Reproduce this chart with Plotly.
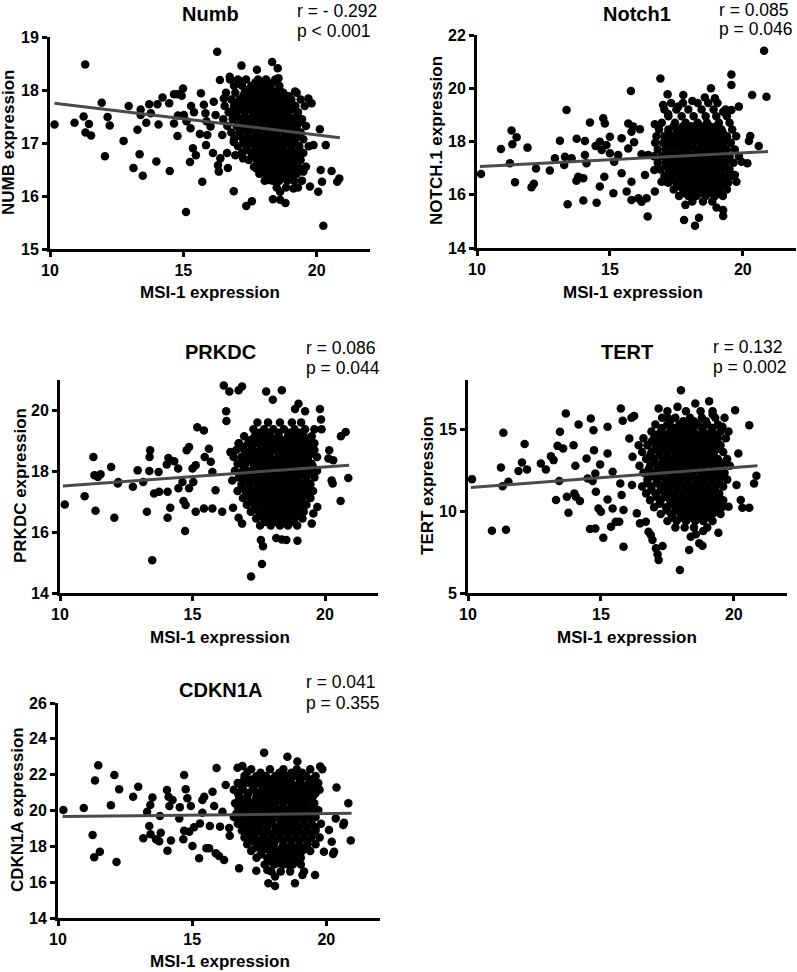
import plotly.graph_objects as go

# ---------------- DATA ----------------
x_tick_vals = [10, 15, 20]
panel_titles = ["Numb", "Notch1", "PRKDC", "TERT", "CDKN1A"]
y_titles = ["NUMB expression", "NOTCH.1 expression", "PRKDC expression", "TERT expression", "CDKN1A expression"]
x_title = "MSI-1 expression"
r_texts = ["r = - 0.292", "r = 0.085", "r = 0.086", "r = 0.132", "r = 0.041"]
p_texts = ["p < 0.001", "p = 0.046", "p = 0.044", "p = 0.002", "p = 0.355"]

# regression lines (end points)
numb_fit_x = [10.17, 20.87];   numb_fit_y = [17.75, 17.10]
notch_fit_x = [10.11, 20.95];  notch_fit_y = [17.06, 17.62]
prkdc_fit_x = [10.11, 20.91];  prkdc_fit_y = [17.52, 18.20]
tert_fit_x = [10.11, 20.89];   tert_fit_y = [11.44, 12.76]
cdkn_fit_x = [10.17, 20.94];   cdkn_fit_y = [19.66, 19.84]

# sparse points (x, y)
numb_points = [
    (10.17, 17.35), (10.92, 17.38), (11.32, 18.48), (11.26, 17.50), (11.46, 17.36), (11.33, 17.20),
    (11.54, 17.14), (11.94, 17.76), (12.16, 17.49), (12.24, 17.33), (12.06, 16.75), (12.76, 17.04),
    (12.95, 17.70), (13.28, 17.25), (13.36, 16.79), (13.13, 16.53), (13.48, 16.38), (13.40, 17.63),
    (13.40, 17.53), (13.61, 17.38), (13.72, 17.73), (13.78, 17.56), (13.99, 16.65), (14.03, 17.73),
    (14.07, 17.35), (14.22, 17.86), (14.47, 17.75), (14.49, 16.47), (14.65, 17.92), (14.78, 17.92),
    (14.80, 17.52), (14.65, 17.37), (14.78, 17.13), (14.94, 17.89), (14.99, 18.03), (15.02, 17.53),
    (15.10, 15.70), (15.12, 17.41), (15.25, 16.64), (15.29, 17.70), (15.40, 17.58), (15.36, 16.90),
    (15.47, 16.77), (15.27, 17.28), (15.66, 17.94), (15.71, 16.27), (15.62, 17.17), (15.77, 17.72),
    (15.83, 17.56), (15.87, 17.41), (15.85, 16.96), (15.90, 17.15), (16.02, 17.31), (16.11, 16.81),
    (16.14, 17.78), (16.21, 17.53), (16.27, 18.72), (16.33, 16.46), (16.37, 18.19), (16.39, 16.71),
    (16.30, 16.58), (16.46, 17.15), (16.52, 17.84), (16.64, 16.81), (16.67, 16.53), (16.74, 18.25),
    (16.77, 17.59), (16.89, 16.09), (16.95, 16.77), (16.89, 17.02), (17.18, 18.46), (17.24, 16.71),
    (17.36, 15.81), (17.49, 17.02), (17.57, 15.90), (17.64, 18.03), (17.76, 18.38), (17.74, 16.52),
    (18.07, 16.43), (18.20, 16.30), (18.33, 18.53), (18.36, 15.94), (18.54, 18.41), (18.63, 15.93),
    (18.83, 15.87), (18.63, 16.08), (18.57, 18.22), (19.13, 16.14), (19.19, 17.97), (19.50, 16.46),
    (19.69, 17.84), (19.81, 17.75), (19.88, 16.96), (19.75, 16.18), (20.06, 16.08), (20.12, 17.26),
    (20.15, 16.49), (20.20, 16.27), (20.34, 16.96), (20.25, 15.44), (20.56, 16.47), (20.77, 16.27),
    (20.85, 16.33),
]
# dense core: (y, [x values])
numb_core_rows = [
    (18.20, [16.75, 17.05, 17.35, 17.8, 18.1, 18.45]),
    (18.08, [16.9, 17.2, 17.55, 17.9, 18.25, 18.6]),
    (17.95, [16.6, 16.95, 17.3, 17.6, 17.85, 18.15, 18.45, 18.75, 19.25]),
    (17.82, [16.8, 17.1, 17.4, 17.7, 17.95, 18.2, 18.5, 18.8, 19.05, 19.4]),
    (17.70, [16.55, 16.9, 17.2, 17.5, 17.8, 18.05, 18.3, 18.6, 18.9, 19.2, 19.55]),
    (17.58, [16.7, 17.0, 17.3, 17.6, 17.9, 18.15, 18.4, 18.7, 18.95, 19.3]),
    (17.45, [16.5, 16.85, 17.15, 17.45, 17.7, 17.95, 18.25, 18.5, 18.8, 19.1, 19.45]),
    (17.32, [16.65, 17.0, 17.3, 17.55, 17.85, 18.1, 18.4, 18.65, 18.95, 19.25, 19.6]),
    (17.20, [16.8, 17.1, 17.4, 17.7, 17.95, 18.25, 18.5, 18.8, 19.1, 19.4]),
    (17.07, [16.9, 17.25, 17.55, 17.8, 18.1, 18.35, 18.65, 18.9, 19.2, 19.5]),
    (16.94, [17.05, 17.4, 17.7, 17.95, 18.2, 18.5, 18.75, 19.05, 19.35, 19.7]),
    (16.81, [17.2, 17.55, 17.85, 18.1, 18.35, 18.6, 18.9, 19.2, 19.5]),
    (16.68, [17.45, 17.75, 18.0, 18.3, 18.55, 18.85, 19.1, 19.4]),
    (16.55, [17.65, 17.95, 18.2, 18.45, 18.75, 19.0, 19.3, 19.6]),
    (16.42, [17.85, 18.15, 18.4, 18.7, 18.95, 19.25]),
    (16.29, [18.05, 18.35, 18.6, 18.9, 19.15, 19.45]),
    (16.16, [18.5, 18.85, 19.3]),
]
numb_core_fill = [
    (18.14, [17.2, 17.7, 18.0, 18.35]),
    (18.01, [17.45, 17.75, 18.0, 18.3, 18.6]),
    (17.88, [17.25, 17.55, 17.85, 18.1, 18.35, 18.65, 18.95]),
    (17.76, [17.05, 17.35, 17.65, 17.9, 18.15, 18.45, 18.75, 19.05]),
    (17.64, [17.15, 17.45, 17.75, 18.0, 18.3, 18.55, 18.85, 19.1]),
    (17.51, [17.0, 17.3, 17.6, 17.85, 18.1, 18.4, 18.65, 18.95, 19.25]),
    (17.39, [17.15, 17.45, 17.75, 18.0, 18.3, 18.55, 18.85, 19.1, 19.4]),
    (17.26, [17.25, 17.55, 17.85, 18.1, 18.4, 18.65, 18.95, 19.25]),
    (17.13, [17.1, 17.4, 17.7, 17.95, 18.25, 18.5, 18.8, 19.05, 19.35]),
    (17.00, [17.25, 17.55, 17.85, 18.1, 18.35, 18.6, 18.9, 19.15]),
    (16.87, [17.35, 17.7, 18.0, 18.25, 18.5, 18.75, 19.05, 19.35]),
    (16.74, [17.65, 17.9, 18.15, 18.45, 18.7, 18.95, 19.25]),
    (16.61, [17.8, 18.1, 18.35, 18.6, 18.9, 19.15]),
    (16.48, [18.0, 18.3, 18.55, 18.85, 19.1]),
    (16.35, [18.2, 18.5, 18.8, 19.05]),
]

notch_points = [
    (10.15, 16.78), (10.90, 17.72), (11.30, 18.41), (11.49, 18.16), (11.33, 17.90), (11.24, 17.18),
    (11.43, 16.47), (11.90, 17.77), (12.05, 16.28), (12.14, 16.41), (12.22, 16.99), (12.74, 16.91),
    (12.93, 17.37), (13.12, 18.03), (13.28, 17.12), (13.37, 19.18), (13.41, 15.64), (13.31, 17.43),
    (13.56, 17.37), (13.75, 18.10), (13.74, 16.53), (13.81, 16.68), (14.00, 16.62), (14.00, 15.78),
    (14.06, 18.02), (14.06, 17.49), (14.25, 18.71), (14.12, 17.18), (14.50, 15.70), (14.46, 17.83),
    (14.62, 17.99), (14.62, 16.31), (14.69, 17.68), (14.75, 18.87), (14.81, 18.68), (14.79, 16.68),
    (14.87, 17.87), (15.00, 18.18), (15.00, 17.56), (15.13, 16.06), (15.16, 17.24), (15.31, 17.49),
    (15.44, 18.12), (15.44, 16.81), (15.63, 16.12), (15.69, 18.68), (15.69, 17.74), (15.79, 19.90),
    (15.81, 18.37), (15.88, 18.56), (15.81, 16.49), (15.91, 17.97), (15.81, 15.80), (16.07, 15.87),
    (16.13, 18.46), (16.19, 17.52), (16.19, 15.74), (16.32, 16.74), (16.42, 15.18), (16.38, 15.87),
    (16.44, 17.49), (16.69, 18.65), (16.67, 16.93), (16.69, 16.12), (16.90, 20.37), (16.94, 16.49),
    (17.00, 19.37), (17.13, 16.49), (17.17, 19.77), (17.19, 19.03), (17.57, 19.31), (17.76, 19.75),
    (17.79, 15.05), (17.84, 15.62), (18.20, 14.84), (18.35, 15.14), (18.10, 19.52), (18.57, 19.65),
    (18.80, 20.00), (18.95, 19.62), (19.01, 15.52), (19.26, 15.20), (19.26, 15.43), (19.26, 19.12),
    (19.57, 20.52), (19.57, 20.12), (19.57, 19.18), (19.85, 19.31), (19.76, 16.49), (19.70, 16.74),
    (19.95, 17.24), (20.17, 17.18), (20.23, 18.02), (20.28, 18.21), (20.35, 19.75), (20.60, 17.83),
    (20.80, 21.41), (20.89, 19.68),
]
notch_core_rows = [
    (19.45, [17.3, 17.75, 18.3, 18.7, 19.05]),
    (19.20, [17.05, 17.5, 17.95, 18.45, 18.9, 19.35]),
    (18.95, [17.2, 17.7, 18.15, 18.6, 19.0, 19.4]),
    (18.70, [16.95, 17.45, 17.85, 18.3, 18.65, 19.1, 19.5]),
    (18.45, [16.85, 17.2, 17.6, 17.9, 18.2, 18.5, 18.85, 19.2, 19.6]),
    (18.20, [16.75, 17.05, 17.35, 17.65, 17.95, 18.25, 18.55, 18.8, 19.1, 19.4, 19.75]),
    (17.95, [16.7, 17.0, 17.3, 17.6, 17.85, 18.1, 18.4, 18.7, 18.95, 19.25, 19.55]),
    (17.70, [16.8, 17.1, 17.4, 17.7, 17.95, 18.25, 18.5, 18.8, 19.1, 19.4, 19.7]),
    (17.45, [16.65, 16.95, 17.25, 17.55, 17.8, 18.1, 18.35, 18.65, 18.9, 19.2, 19.5, 19.85]),
    (17.20, [16.8, 17.1, 17.4, 17.7, 17.95, 18.2, 18.5, 18.75, 19.05, 19.35, 19.65]),
    (16.95, [16.9, 17.25, 17.55, 17.85, 18.1, 18.35, 18.65, 18.9, 19.2, 19.5]),
    (16.70, [17.05, 17.35, 17.65, 17.95, 18.25, 18.5, 18.8, 19.05, 19.35, 19.6]),
    (16.45, [17.2, 17.5, 17.8, 18.1, 18.4, 18.65, 18.95, 19.2, 19.45]),
    (16.20, [17.4, 17.75, 18.0, 18.3, 18.55, 18.85, 19.1, 19.4]),
    (15.95, [17.6, 17.95, 18.25, 18.6, 18.95, 19.25]),
    (15.75, [18.1, 18.5, 18.85]),
]
notch_core_fill = [
    (18.57, [17.4, 17.75, 18.05, 18.4, 18.75, 19.0]),
    (18.32, [17.2, 17.5, 17.8, 18.1, 18.4, 18.7, 18.95, 19.25]),
    (18.07, [17.15, 17.45, 17.75, 18.0, 18.25, 18.55, 18.85, 19.1, 19.4]),
    (17.82, [17.25, 17.55, 17.85, 18.1, 18.4, 18.65, 18.95, 19.25]),
    (17.57, [17.1, 17.4, 17.7, 17.95, 18.25, 18.5, 18.8, 19.05, 19.35]),
    (17.32, [17.25, 17.55, 17.85, 18.1, 18.35, 18.65, 18.9, 19.2, 19.5]),
    (17.07, [17.1, 17.4, 17.7, 18.0, 18.25, 18.5, 18.8, 19.05, 19.35]),
    (16.82, [17.2, 17.5, 17.8, 18.1, 18.4, 18.65, 18.95, 19.2]),
    (16.57, [17.35, 17.65, 17.95, 18.25, 18.55, 18.8, 19.1, 19.35]),
    (16.32, [17.6, 17.9, 18.2, 18.45, 18.7, 19.0, 19.25]),
    (16.07, [17.8, 18.1, 18.4, 18.75, 19.1]),
]

prkdc_points = [
    (10.18, 16.91), (10.93, 17.18), (11.26, 18.47), (11.34, 16.70), (11.30, 17.87), (11.43, 17.81),
    (11.53, 17.90), (11.93, 18.14), (12.05, 16.47), (12.20, 17.65), (12.18, 17.60), (12.75, 17.49),
    (12.93, 18.03), (13.14, 17.65), (13.28, 16.67), (13.40, 18.69), (13.38, 18.47), (13.37, 18.01),
    (13.48, 15.08), (13.55, 17.27), (13.72, 17.98), (13.74, 17.33), (14.06, 17.33), (14.03, 18.22),
    (14.06, 16.47), (14.09, 18.44), (14.16, 16.80), (14.31, 18.33), (14.46, 18.09), (14.47, 17.44),
    (14.62, 17.65), (14.66, 17.02), (14.72, 16.04), (14.74, 16.89), (14.78, 18.69), (14.87, 18.80),
    (14.87, 17.44), (15.00, 18.09), (15.03, 17.65), (15.12, 16.67), (15.18, 19.45), (15.43, 19.34),
    (15.12, 18.20), (15.43, 16.78), (15.46, 18.47), (15.75, 16.78), (15.62, 18.74), (15.69, 18.31),
    (15.75, 17.98), (15.87, 17.38), (16.12, 16.67), (16.18, 20.82), (16.27, 19.97), (16.28, 19.65),
    (16.39, 20.62), (16.43, 18.63), (16.50, 17.70), (16.53, 16.80), (16.74, 20.66), (16.87, 20.79),
    (16.74, 18.91), (16.74, 16.47), (16.87, 16.28), (17.21, 14.54), (17.58, 15.74), (17.66, 15.54),
    (17.62, 14.95), (17.78, 20.62), (18.03, 20.35), (18.37, 20.66), (18.16, 15.81), (18.37, 15.76),
    (18.54, 15.74), (18.96, 15.72), (18.87, 20.05), (19.00, 20.22), (19.25, 19.97), (19.81, 20.05),
    (19.85, 19.70), (19.87, 19.38), (19.50, 16.28), (19.56, 16.61), (19.71, 16.83), (20.16, 18.69),
    (20.13, 18.42), (20.31, 18.36), (20.25, 17.70), (20.29, 17.60), (20.59, 17.02), (20.60, 19.15),
    (20.78, 19.29), (20.88, 17.78),
]
prkdc_core_rows = [
    (19.60, [17.45, 17.85, 18.3, 18.75, 19.1]),
    (19.38, [17.3, 17.7, 18.05, 18.45, 18.85, 19.25, 19.6]),
    (19.15, [16.95, 17.35, 17.65, 17.95, 18.25, 18.6, 18.9, 19.2, 19.5]),
    (18.92, [16.75, 17.1, 17.45, 17.75, 18.05, 18.35, 18.65, 18.95, 19.3, 19.6]),
    (18.70, [16.65, 16.95, 17.25, 17.55, 17.85, 18.1, 18.4, 18.7, 19.0, 19.3, 19.6]),
    (18.47, [16.55, 16.85, 17.15, 17.4, 17.7, 17.95, 18.25, 18.5, 18.8, 19.05, 19.35, 19.7]),
    (18.25, [16.7, 17.0, 17.3, 17.6, 17.85, 18.1, 18.4, 18.65, 18.95, 19.2, 19.5]),
    (18.02, [16.6, 16.9, 17.2, 17.5, 17.75, 18.0, 18.3, 18.55, 18.85, 19.1, 19.4, 19.7]),
    (17.80, [16.75, 17.05, 17.35, 17.65, 17.9, 18.2, 18.45, 18.75, 19.0, 19.3, 19.6]),
    (17.57, [16.85, 17.15, 17.45, 17.75, 18.0, 18.3, 18.55, 18.85, 19.15, 19.45]),
    (17.35, [16.7, 17.0, 17.3, 17.6, 17.85, 18.15, 18.4, 18.7, 18.95, 19.25, 19.55]),
    (17.12, [16.9, 17.2, 17.5, 17.75, 18.0, 18.3, 18.55, 18.85, 19.15, 19.45]),
    (16.90, [17.05, 17.35, 17.65, 17.9, 18.2, 18.45, 18.75, 19.0, 19.3]),
    (16.67, [17.2, 17.5, 17.8, 18.1, 18.35, 18.65, 18.9, 19.2]),
    (16.45, [17.4, 17.7, 18.0, 18.3, 18.55, 18.85, 19.15]),
    (16.22, [17.55, 17.95, 18.3, 18.6, 18.95]),
]
prkdc_core_fill = [
    (19.27, [17.5, 17.85, 18.25, 18.65, 19.05]),
    (19.03, [17.2, 17.5, 17.8, 18.1, 18.4, 18.75, 19.05, 19.35]),
    (18.81, [16.9, 17.25, 17.6, 17.9, 18.2, 18.5, 18.8, 19.15, 19.45]),
    (18.58, [17.05, 17.3, 17.55, 17.85, 18.25, 18.6, 18.95, 19.2, 19.5]),
    (18.36, [16.85, 17.15, 17.45, 17.75, 18.0, 18.3, 18.55, 18.8, 19.1, 19.35]),
    (18.13, [16.95, 17.35, 17.65, 17.9, 18.15, 18.45, 18.7, 19.0, 19.25, 19.55]),
    (17.91, [16.9, 17.2, 17.5, 17.8, 18.05, 18.35, 18.6, 18.9, 19.15, 19.45]),
    (17.68, [17.0, 17.3, 17.6, 17.9, 18.15, 18.45, 18.7, 19.0, 19.3]),
    (17.46, [16.85, 17.15, 17.45, 17.7, 18.0, 18.25, 18.55, 18.8, 19.1, 19.4]),
    (17.23, [17.05, 17.35, 17.65, 17.9, 18.15, 18.45, 18.7, 19.0, 19.3]),
    (17.01, [17.2, 17.5, 17.8, 18.05, 18.35, 18.6, 18.9, 19.15]),
    (16.78, [17.35, 17.65, 17.95, 18.25, 18.5, 18.8, 19.05]),
    (16.56, [17.55, 17.85, 18.15, 18.45, 18.7, 19.0]),
    (16.33, [17.75, 18.1, 18.45, 18.8]),
]

tert_points = [
    (10.15, 11.95), (10.90, 8.80), (11.24, 12.66), (11.33, 14.78), (11.30, 11.52), (11.43, 8.86),
    (11.52, 11.79), (11.90, 12.44), (12.03, 12.97), (12.13, 14.09), (12.22, 12.54), (12.74, 12.91),
    (12.93, 12.54), (13.12, 13.35), (13.22, 13.11), (13.31, 10.67), (13.37, 13.98), (13.43, 11.83),
    (13.46, 14.84), (13.58, 13.82), (13.68, 15.96), (13.72, 10.87), (13.78, 9.90), (13.97, 14.02),
    (14.04, 12.76), (14.00, 11.08), (14.06, 10.87), (14.16, 15.28), (14.21, 10.61), (14.46, 13.21),
    (14.50, 11.99), (14.59, 8.90), (14.62, 15.65), (14.69, 11.83), (14.72, 14.94), (14.74, 13.72),
    (14.79, 8.94), (14.79, 12.30), (14.81, 11.18), (14.91, 10.16), (15.00, 9.96), (14.97, 12.85),
    (15.09, 8.37), (15.25, 15.14), (15.25, 13.52), (15.25, 10.71), (15.44, 12.40), (15.44, 10.16),
    (15.38, 9.04), (15.56, 9.35), (15.69, 9.35), (15.75, 16.26), (15.82, 15.51), (15.73, 11.69),
    (15.78, 10.98), (15.85, 10.06), (15.85, 7.83), (16.07, 14.43), (16.15, 15.69), (16.25, 15.81),
    (16.19, 13.31), (16.17, 11.59), (16.35, 9.86), (16.42, 14.02), (16.47, 9.25), (16.69, 9.35),
    (16.79, 8.74), (16.88, 8.54), (16.94, 8.23), (17.07, 7.73), (17.13, 7.36), (17.17, 7.01),
    (17.32, 7.87), (17.17, 16.26), (17.54, 15.65), (17.88, 16.36), (18.01, 17.38), (17.97, 6.40),
    (18.32, 7.62), (18.38, 8.43), (18.57, 8.58), (18.70, 8.03), (18.82, 7.89), (18.85, 8.78),
    (18.55, 16.57), (19.07, 16.71), (19.20, 15.89), (19.42, 8.68), (19.57, 15.14), (19.80, 10.26),
    (20.05, 16.16), (20.10, 11.59), (20.17, 13.52), (20.26, 10.67), (20.32, 10.20), (20.58, 10.20),
    (20.58, 15.24), (20.76, 11.69), (20.85, 12.15),
]
tert_core_rows = [
    (16.10, [17.5, 18.2, 18.75, 19.2]),
    (15.70, [17.3, 17.8, 18.35, 18.8, 19.3, 19.65]),
    (15.28, [17.05, 17.5, 17.95, 18.3, 18.65, 19.0, 19.4]),
    (14.86, [16.9, 17.25, 17.6, 17.9, 18.2, 18.5, 18.85, 19.15, 19.5, 19.8]),
    (14.44, [16.6, 17.0, 17.35, 17.65, 17.95, 18.25, 18.55, 18.85, 19.1, 19.4, 19.7]),
    (14.02, [16.75, 17.1, 17.4, 17.7, 18.0, 18.3, 18.6, 18.9, 19.2, 19.5]),
    (13.60, [16.55, 16.9, 17.2, 17.5, 17.8, 18.1, 18.4, 18.65, 18.95, 19.25, 19.6]),
    (13.18, [16.7, 17.0, 17.35, 17.65, 17.95, 18.2, 18.5, 18.8, 19.1, 19.4, 19.75]),
    (12.76, [16.45, 16.85, 17.15, 17.45, 17.75, 18.05, 18.35, 18.6, 18.9, 19.2, 19.5, 19.85]),
    (12.34, [16.6, 17.0, 17.3, 17.6, 17.9, 18.2, 18.45, 18.75, 19.05, 19.35, 19.65]),
    (11.92, [16.75, 17.1, 17.45, 17.75, 18.0, 18.3, 18.6, 18.85, 19.15, 19.45, 19.75]),
    (11.50, [16.55, 16.9, 17.25, 17.55, 17.85, 18.15, 18.45, 18.7, 19.0, 19.3, 19.6]),
    (11.08, [16.7, 17.05, 17.4, 17.7, 18.0, 18.3, 18.55, 18.85, 19.15, 19.45]),
    (10.66, [16.85, 17.25, 17.6, 17.9, 18.2, 18.45, 18.75, 19.0, 19.3, 19.6]),
    (10.24, [17.0, 17.45, 17.8, 18.1, 18.4, 18.65, 18.95, 19.25, 19.55]),
    (9.82, [17.25, 17.65, 18.0, 18.3, 18.6, 18.9, 19.2, 19.5]),
    (9.40, [17.5, 17.85, 18.2, 18.55, 18.85, 19.2]),
    (9.00, [17.8, 18.15, 18.5, 19.0]),
]
tert_core_fill = [
    (15.49, [17.6, 18.1, 18.5, 18.95]),
    (15.07, [17.3, 17.75, 18.1, 18.45, 18.8, 19.2]),
    (14.65, [17.1, 17.45, 17.75, 18.05, 18.35, 18.7, 19.0, 19.3]),
    (14.23, [16.9, 17.25, 17.55, 17.85, 18.15, 18.45, 18.75, 19.05, 19.35]),
    (13.81, [17.05, 17.35, 17.65, 17.95, 18.25, 18.55, 18.8, 19.1, 19.4]),
    (13.39, [16.85, 17.2, 17.5, 17.8, 18.05, 18.35, 18.65, 18.95, 19.25]),
    (12.97, [17.0, 17.3, 17.6, 17.9, 18.2, 18.5, 18.75, 19.05, 19.35, 19.65]),
    (12.55, [16.8, 17.15, 17.45, 17.75, 18.05, 18.35, 18.6, 18.9, 19.2, 19.5]),
    (12.13, [16.9, 17.25, 17.6, 17.9, 18.15, 18.45, 18.75, 19.0, 19.3, 19.6]),
    (11.71, [16.75, 17.1, 17.4, 17.7, 18.0, 18.3, 18.6, 18.85, 19.15, 19.45]),
    (11.29, [16.9, 17.25, 17.55, 17.85, 18.15, 18.4, 18.7, 19.0, 19.3]),
    (10.87, [17.1, 17.45, 17.75, 18.05, 18.35, 18.6, 18.9, 19.2, 19.45]),
    (10.45, [17.2, 17.65, 18.0, 18.3, 18.55, 18.85, 19.1, 19.4]),
    (10.03, [17.5, 17.85, 18.15, 18.45, 18.75, 19.05, 19.35]),
    (9.61, [17.7, 18.05, 18.4, 18.7, 19.0]),
]

cdkn_points = [
    (10.20, 20.03), (10.96, 20.14), (11.29, 18.63), (11.38, 21.67), (11.50, 22.52), (11.35, 17.39),
    (11.56, 17.70), (11.97, 20.29), (12.10, 21.98), (12.18, 17.13), (12.28, 21.18), (12.80, 20.77),
    (12.99, 21.33), (13.18, 18.45), (13.32, 19.93), (13.40, 19.13), (13.44, 20.31), (13.45, 18.68),
    (13.52, 20.73), (13.65, 18.39), (13.77, 18.28), (13.80, 19.69), (13.83, 18.76), (14.06, 21.14),
    (14.08, 17.76), (14.12, 20.77), (14.15, 20.25), (14.21, 18.32), (14.27, 20.58), (14.52, 19.56),
    (14.54, 20.18), (14.67, 18.39), (14.70, 21.98), (14.70, 18.87), (14.76, 21.18), (14.82, 20.68),
    (14.89, 18.82), (14.95, 20.25), (15.01, 18.02), (15.07, 19.06), (15.26, 17.33), (15.29, 19.28),
    (15.38, 19.88), (15.38, 20.58), (15.45, 20.77), (15.53, 17.89), (15.63, 17.89), (15.66, 19.13),
    (15.76, 21.05), (15.82, 20.25), (15.88, 17.61), (15.91, 22.37), (16.00, 17.46), (16.04, 19.10),
    (16.13, 19.93), (16.19, 17.24), (16.25, 21.42), (16.38, 19.02), (16.40, 18.59), (16.69, 22.39),
    (16.75, 16.77), (16.87, 22.48), (16.93, 21.69), (17.06, 22.16), (17.39, 16.64), (17.68, 23.23),
    (17.80, 16.68), (17.84, 15.94), (18.09, 15.79), (18.09, 16.31), (18.18, 17.05), (18.55, 23.00),
    (18.61, 16.96), (18.83, 15.94), (18.92, 22.73), (19.11, 16.40), (19.17, 16.59), (19.58, 16.40),
    (19.77, 22.45), (19.85, 22.30), (19.91, 17.70), (20.10, 18.91), (20.20, 18.26), (20.25, 17.57),
    (20.29, 17.70), (20.35, 19.56), (20.38, 21.29), (20.63, 19.19), (20.66, 19.32), (20.82, 20.40),
    (20.91, 18.32),
]
cdkn_core_rows = [
    (22.30, [17.2, 17.9, 18.4, 18.9, 19.4]),
    (21.92, [16.95, 17.4, 17.75, 18.1, 18.5, 18.85, 19.25, 19.6]),
    (21.54, [16.7, 17.1, 17.45, 17.8, 18.1, 18.4, 18.7, 19.0, 19.35, 19.7]),
    (21.16, [16.55, 16.9, 17.25, 17.6, 17.9, 18.2, 18.5, 18.8, 19.1, 19.4, 19.75]),
    (20.78, [16.75, 17.05, 17.4, 17.7, 18.0, 18.3, 18.6, 18.9, 19.2, 19.5]),
    (20.40, [16.6, 16.9, 17.2, 17.5, 17.8, 18.1, 18.4, 18.7, 18.95, 19.25, 19.55]),
    (20.02, [16.8, 17.1, 17.4, 17.7, 17.95, 18.25, 18.55, 18.85, 19.1, 19.4, 19.7]),
    (19.64, [16.55, 16.95, 17.25, 17.55, 17.85, 18.15, 18.45, 18.7, 19.0, 19.3, 19.6]),
    (19.26, [16.7, 17.05, 17.35, 17.65, 17.95, 18.3, 18.6, 18.85, 19.15, 19.45, 19.8]),
    (18.88, [16.85, 17.2, 17.5, 17.8, 18.1, 18.4, 18.7, 19.0, 19.3, 19.6]),
    (18.50, [16.95, 17.3, 17.65, 17.95, 18.25, 18.55, 18.85, 19.15, 19.45, 19.75]),
    (18.12, [17.05, 17.45, 17.75, 18.05, 18.4, 18.7, 19.0, 19.3, 19.6]),
    (17.74, [17.2, 17.6, 17.9, 18.2, 18.5, 18.8, 19.1, 19.4]),
    (17.36, [17.4, 17.8, 18.1, 18.45, 18.75, 19.05]),
    (16.98, [17.7, 18.05, 18.4, 18.75, 19.05]),
    (16.60, [17.95, 18.3, 18.65]),
]
cdkn_core_fill = [
    (22.11, [17.55, 18.25, 18.7, 19.1]),
    (21.73, [17.2, 17.6, 17.95, 18.3, 18.65, 19.05, 19.45]),
    (21.35, [16.85, 17.3, 17.65, 17.95, 18.25, 18.55, 18.85, 19.2, 19.55]),
    (20.97, [16.7, 17.1, 17.45, 17.75, 18.05, 18.35, 18.65, 18.95, 19.3, 19.6]),
    (20.59, [16.75, 17.05, 17.35, 17.65, 17.95, 18.25, 18.55, 18.85, 19.1, 19.4]),
    (20.21, [16.7, 16.95, 17.25, 17.55, 17.85, 18.1, 18.4, 18.7, 19.0, 19.25, 19.55]),
    (19.83, [16.65, 16.95, 17.25, 17.55, 17.8, 18.1, 18.4, 18.7, 18.95, 19.25, 19.5]),
    (19.45, [16.8, 17.1, 17.4, 17.7, 18.0, 18.3, 18.55, 18.85, 19.15, 19.45]),
    (19.07, [16.95, 17.2, 17.5, 17.8, 18.15, 18.45, 18.75, 19.0, 19.3, 19.6]),
    (18.69, [17.05, 17.35, 17.65, 17.95, 18.25, 18.55, 18.85, 19.15, 19.45]),
    (18.31, [17.2, 17.5, 17.8, 18.1, 18.4, 18.7, 19.0, 19.3]),
    (17.93, [17.35, 17.7, 18.0, 18.35, 18.65, 18.95, 19.25]),
    (17.55, [17.55, 17.95, 18.25, 18.6, 18.9]),
    (17.17, [17.85, 18.2, 18.55, 18.9]),
]

y_ranges = [[15, 19], [14, 22], [14, 21], [5, 18], [14, 26]]
y_dticks = [1, 2, 2, 5, 2]

# ---------------- LAYOUT (pixel geometry) ----------------
W, H = 797, 972
FONT = "Liberation Sans, Arial, Helvetica, sans-serif"

def fx(px):
    return px / W

def fy(py):
    return 1 - py / H

# plot boxes: (left, right, top, bottom) in pixels
boxes = [
    (50, 370, 37, 249),
    (477, 796, 35, 248),
    (60, 378, 380, 593),
    (468, 787, 380, 593),
    (58, 380, 703, 918),
]
title_pos = [(210, 14), (637, 14), (220, 352), (627, 352), (220, 690)]
stats_pos = [(296, 11, 31), (718, 10, 29), (305, 348, 368), (712, 347, 367), (305, 682, 703)]
xtitle_pos = [(210, 292), (633, 292), (220, 637), (627, 637), (220, 961)]
ytitle_pos = [(8, 143), (437, 141), (20, 486), (427, 486), (17, 810)]

datasets = [
    (numb_points, numb_core_rows + numb_core_fill, numb_fit_x, numb_fit_y),
    (notch_points, notch_core_rows + notch_core_fill, notch_fit_x, notch_fit_y),
    (prkdc_points, prkdc_core_rows + prkdc_core_fill, prkdc_fit_x, prkdc_fit_y),
    (tert_points, tert_core_rows + tert_core_fill, tert_fit_x, tert_fit_y),
    (cdkn_points, cdkn_core_rows + cdkn_core_fill, cdkn_fit_x, cdkn_fit_y),
]

fig = go.Figure()
layout = dict(
    autosize=True, margin=dict(l=0, r=0, t=0, b=0, pad=0, autoexpand=False),
    paper_bgcolor="white", plot_bgcolor="white", showlegend=False,
    font=dict(family=FONT, color="black"),
)
annotations = []

for i, (pts, rows, fxs, fys) in enumerate(datasets):
    n = i + 1
    xa = "x" if n == 1 else f"x{n}"
    ya = "y" if n == 1 else f"y{n}"
    xs = [p[0] for p in pts]
    ys = [p[1] for p in pts]
    for yv, xlist in rows:
        for xv in xlist:
            xs.append(xv)
            ys.append(yv)
    fig.add_trace(go.Scatter(
        x=xs, y=ys, mode="markers", xaxis=xa, yaxis=ya,
        marker=dict(color="black", size=8.5, line=dict(width=0)),
        cliponaxis=False, hoverinfo="skip"))
    fig.add_trace(go.Scatter(
        x=fxs, y=fys, mode="lines", xaxis=xa, yaxis=ya,
        line=dict(color="#4a4a4a", width=3), hoverinfo="skip"))

    l, r, t, b = boxes[i]
    axis_common = dict(
        showgrid=False, zeroline=False, showline=True, linecolor="black", linewidth=3,
        ticks="outside", ticklen=5, tickwidth=3, tickcolor="black", automargin=False,
        tickfont=dict(family=FONT, size=16, color="black", weight="bold"),
    )
    layout["xaxis" if n == 1 else f"xaxis{n}"] = dict(
        axis_common, domain=[fx(l), fx(r)], range=[10, 22], tickvals=x_tick_vals,
        anchor=ya, fixedrange=True)
    yr = y_ranges[i]
    layout["yaxis" if n == 1 else f"yaxis{n}"] = dict(
        axis_common, domain=[fy(b), fy(t)], range=yr, tick0=yr[0], dtick=y_dticks[i],
        anchor=xa, fixedrange=True)

    tx, ty = title_pos[i]
    annotations.append(dict(text=panel_titles[i], x=fx(tx), y=fy(ty), xref="paper", yref="paper",
                            xanchor="center", yanchor="middle", showarrow=False,
                            font=dict(family=FONT, size=20, color="black", weight="bold")))
    sx, sy1, sy2 = stats_pos[i]
    annotations.append(dict(text=r_texts[i], x=fx(sx), y=fy(sy1), xref="paper", yref="paper",
                            xanchor="left", yanchor="middle", showarrow=False, borderpad=0,
                            font=dict(family=FONT, size=17.5, color="black")))
    annotations.append(dict(text=p_texts[i], x=fx(sx), y=fy(sy2), xref="paper", yref="paper",
                            xanchor="left", yanchor="middle", showarrow=False, borderpad=0,
                            font=dict(family=FONT, size=17.5, color="black")))
    xtx, xty = xtitle_pos[i]
    annotations.append(dict(text=x_title, x=fx(xtx), y=fy(xty), xref="paper", yref="paper",
                            xanchor="center", yanchor="middle", showarrow=False,
                            font=dict(family=FONT, size=17, color="black", weight="bold")))
    ytx, yty = ytitle_pos[i]
    annotations.append(dict(text=y_titles[i], x=fx(ytx), y=fy(yty), xref="paper", yref="paper",
                            xanchor="center", yanchor="middle", showarrow=False, textangle=-90,
                            font=dict(family=FONT, size=17, color="black", weight="bold")))

layout["annotations"] = annotations
fig.update_layout(**layout)
fig.write_html(
    "out.html",
    config={"displayModeBar": False, "responsive": False},
    default_width=f"{W}px;position:absolute;left:0;top:0",
    default_height=f"{H}px",
)
